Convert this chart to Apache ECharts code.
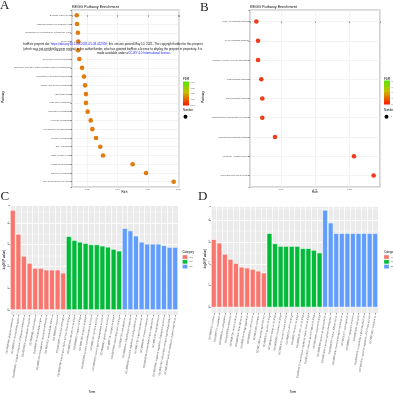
<!DOCTYPE html>
<html><head><meta charset="utf-8">
<script src="https://cdn.jsdelivr.net/npm/echarts@6/dist/echarts.min.js"></script>
<style>html,body{margin:0;padding:0;background:#fff}#c{width:393px;height:400px}</style>
</head><body><div id="c"></div>
<script>
// ---------- DATA ----------
const pathwaysA = ["Synaptic vesicle cycle","Bacterial invasion of epithelial cells","Metabolism of xenobiotics by cytochrome P450","Melanoma","Drug metabolism - cytochrome P450","Glycolysis / Gluconeogenesis","Endocrine and other factor-regulated calcium reabsorption","Regulation of lipolysis in adipocytes","Arginine and proline metabolism","ABC transporters","Fatty acid degradation","Cholesterol metabolism","Pyruvate metabolism","Fat digestion and absorption","Tyrosine metabolism","DNA replication","Base excision repair","Arginine biosynthesis","Nitrogen metabolism","Non-homologous end-joining"];
const richA = [0.0132,0.0134,0.0140,0.0142,0.0142,0.0149,0.0167,0.0180,0.0187,0.0193,0.0193,0.0204,0.0224,0.0235,0.0259,0.0287,0.0305,0.0500,0.0588,0.0770];
const pathwaysB = ["PI3K-Akt signaling pathway","MAPK signaling pathway","Cytokine-cytokine receptor interaction","Ras signaling pathway","Rap1 signaling pathway","Transcriptional misregulation in cancer","Neurotrophin signaling pathway","Apoptosis - multiple species","Collecting duct acid secretion"];
const richB = [0.00277,0.00327,0.00327,0.00423,0.00452,0.00452,0.00824,0.03138,0.03714];
const xTicksA = ["0.02","0.04","0.06","0.08"];
const xTicksB = ["0.01","0.02","0.03"];
const fdrTicks = ["0.90","0.85","0.80","0.75","0.70"];
const numberTicks = ["1"];

const categories = ["CC","MF","BP"];
const catColors = ["#F8766D","#00BA38","#619CFF"];
const yTicksBar = [0,1,2,3,4];

const ccTermsC = ["GO:0005886~plasma membrane","GO:0005615~extracellular space","GO:0005887~integral component of plasma membrane","GO:0070062~extracellular exosome","GO:0009986~cell surface","GO:0005576~extracellular region","GO:0005789~endoplasmic reticulum membrane","GO:0031012~extracellular matrix","GO:0005829~cytosol","GO:0043025~neuronal cell body"];
const mfTermsC = ["GO:0003700~transcription factor activity, DNA binding","GO:0005509~calcium ion binding","GO:0008201~heparin binding","GO:0005102~receptor binding","GO:0042803~protein homodimerization activity","GO:0005125~cytokine activity","GO:0004252~serine-type endopeptidase activity","GO:0008083~growth factor activity","GO:0005178~integrin binding","GO:0042802~identical protein binding"];
const bpTermsC = ["GO:0007155~cell adhesion","GO:0006954~inflammatory response","GO:0008284~positive regulation of cell proliferation","GO:0007165~signal transduction","GO:0006955~immune response","GO:0030198~extracellular matrix organization","GO:0001525~angiogenesis","GO:0043066~negative regulation of apoptotic process","GO:0007166~cell surface receptor signaling pathway","GO:0010628~positive regulation of gene expression"];
const ccC = [4.59,3.49,2.48,2.16,1.93,1.93,1.85,1.85,1.85,1.71];
const mfC = [3.39,3.21,3.13,3.07,3.01,3.01,2.95,2.90,2.80,2.72];
const bpC = [3.76,3.65,3.41,3.13,3.04,3.04,3.04,2.97,2.89,2.89];

const ccTermsD = ["GO:0005634~nucleus","GO:0005737~cytoplasm","GO:0005654~nucleoplasm","GO:0016020~membrane","GO:0005739~mitochondrion","GO:0005925~focal adhesion","GO:0005794~Golgi apparatus","GO:0030054~cell junction","GO:0045202~synapse","GO:0014069~postsynaptic density"];
const mfTermsD = ["GO:0005515~protein binding","GO:0046872~metal ion binding","GO:0003682~chromatin binding","GO:0004672~protein kinase activity","GO:0005524~ATP binding","GO:0003779~actin binding","GO:0008270~zinc ion binding","GO:0044212~transcription regulatory region DNA binding","GO:0031625~ubiquitin protein ligase binding","GO:0019899~enzyme binding"];
const bpTermsD = ["GO:0006468~protein phosphorylation","GO:0007399~nervous system development","GO:0030182~neuron differentiation","GO:0007268~chemical synaptic transmission","GO:0016477~cell migration","GO:0006915~apoptotic process","GO:0007049~cell cycle","GO:0035556~intracellular signal transduction","GO:0043547~positive regulation of GTPase activity","GO:0051301~cell division"];
const ccD = [3.12,2.96,2.45,2.22,2.03,1.86,1.82,1.76,1.68,1.59];
const mfD = [3.40,2.93,2.81,2.81,2.81,2.81,2.71,2.71,2.63,2.51];
const bpD = [4.46,3.88,3.40,3.40,3.40,3.40,3.40,3.40,3.40,3.40];

// ---------- CHART ----------
const FONT = '"Liberation Sans", Arial, sans-serif';
const SERIF = '"Liberation Serif", "DejaVu Serif", serif';
const TXT = '#4D4D4D';

function tickFmt(labels){
  return v => { for (const l of labels) { if (Math.abs(parseFloat(l) - v) < 1e-9) return l; } return ''; };
}
function idxFmt(names){
  return v => { const i = Math.round(v); return (Math.abs(v - i) < 1e-6 && i >= 0 && i < names.length) ? names[i] : ''; };
}

function scatterX(grid, min, max, step, labels){
  return {type:'value', gridIndex:grid, min:min, max:max, minInterval:step, maxInterval:step,
    axisLine:{show:false}, axisTick:{show:true,length:1.5,lineStyle:{color:'#333',width:0.5}},
    axisLabel:{fontSize:2.3,color:TXT,margin:1.2,fontFamily:FONT,formatter:tickFmt(labels)},
    splitLine:{show:true,lineStyle:{color:'#EBEBEB',width:0.6}}};
}
function scatterY(grid, names){
  return {type:'value', gridIndex:grid, inverse:true, min:-0.6, max:names.length - 0.4, minInterval:1, maxInterval:1,
    axisLine:{show:false}, axisTick:{show:true,length:1.5,lineStyle:{color:'#333',width:0.5}},
    axisLabel:{fontSize:2.2,color:TXT,margin:1,fontFamily:FONT,formatter:idxFmt(names)},
    splitLine:{show:true,lineStyle:{color:'#EBEBEB',width:0.6}}};
}
function barXVisible(grid, terms){
  return {type:'category', gridIndex:grid, data:terms, boundaryGap:true,
    axisLine:{show:false}, axisTick:{show:true,alignWithLabel:true,length:1.5,lineStyle:{color:'#333',width:0.5}},
    axisLabel:{interval:0, rotate:80, fontSize:2.5, color:TXT, margin:2.5, fontFamily:FONT},
    splitLine:{show:true,lineStyle:{color:'#FFFFFF',width:0.7}}};
}
function barXHidden(grid, terms){
  return {type:'category', gridIndex:grid, data:terms, boundaryGap:true, show:false};
}
function barY(grid, max){
  return {type:'value', gridIndex:grid, min:0, max:max, interval:1,
    axisLine:{show:false}, axisTick:{show:true,length:1.5,lineStyle:{color:'#333',width:0.5}},
    axisLabel:{fontSize:2.6,color:TXT,margin:1.2,fontFamily:FONT,formatter:tickFmt(yTicksBar.map(String))},
    splitLine:{show:true,lineStyle:{color:'#FFFFFF',width:0.9}},
    minorTick:{show:false,splitNumber:2},
    minorSplitLine:{show:true,lineStyle:{color:'#FFFFFF',width:0.4}}};
}
function barSeries(xi, yi, groups){
  const total = groups.reduce((s,g)=>s+g.length,0);
  let offset = 0;
  return groups.map((g, k) => {
    const data = new Array(total).fill('-');
    g.forEach((v, i) => { data[offset + i] = v; });
    offset += g.length;
    return {type:'bar', name:categories[k], xAxisIndex:xi, yAxisIndex:yi, data:data,
      barGap:'-100%', barCategoryGap:'0%', itemStyle:{color:catColors[k], borderColor:'#FFFFFF', borderWidth:0.6}};
  });
}

const termsC = ccTermsC.concat(mfTermsC, bpTermsC);
const termsD = ccTermsD.concat(mfTermsD, bpTermsD);

function txt(x, y, text, size, extra){
  return Object.assign({type:'text', x:x, y:y, silent:true, z:50,
    style:Object.assign({text:text, fontSize:size, fontFamily:FONT, fill:'#000', textAlign:'left', textVerticalAlign:'middle'}, (extra||{}).style||{})},
    extra && extra.rotation !== undefined ? {rotation:extra.rotation} : {});
}

function fdrLegend(x, yTop, labelX){
  const els = [];
  els.push(txt(x, 79, 'FDR', 3));
  els.push({type:'rect', z:50, shape:{x:x, y:yTop, width:6, height:24},
    style:{fill:{type:'linear',x:0,y:0,x2:0,y2:1,colorStops:[{offset:0,color:'#55E600'},{offset:0.45,color:'#C9BE00'},{offset:1,color:'#FF1500'}]}}});
  fdrTicks.forEach((l, i) => els.push(txt(labelX, yTop + 1 + i * 5.6, l, 2.2, {style:{fill:TXT}})));
  els.push(txt(x, 110, 'Number', 2.8));
  els.push({type:'circle', z:50, shape:{cx:x + 2.5, cy:116.7, r:2}, style:{fill:'#000'}});
  els.push(txt(x + 6.5, 116.7, numberTicks[0], 2.4, {style:{fill:TXT}}));
  return els;
}
function catLegend(x, y0){
  const els = [txt(x, y0, 'Category', 2.8)];
  categories.forEach((c, i) => {
    els.push({type:'rect', z:50, shape:{x:x, y:y0 + 3 + i * 4.8, width:5, height:4}, style:{fill:catColors[i], stroke:'#fff', lineWidth:0.3}});
    els.push(txt(x + 7, y0 + 5 + i * 4.8, c, 2.4, {style:{fill:TXT}}));
  });
  return els;
}

const graphics = [
  txt(0, 6, 'A', 13, {style:{fontFamily:SERIF, fill:'#222'}}),
  txt(200, 8, 'B', 13, {style:{fontFamily:SERIF, fill:'#222'}}),
  txt(0.5, 196.5, 'C', 13, {style:{fontFamily:SERIF, fill:'#222'}}),
  txt(198, 197, 'D', 13, {style:{fontFamily:SERIF, fill:'#222'}}),
  txt(72, 7, 'KEGG Pathway Enrichment', 3.8),
  txt(250, 7, 'KEGG Pathway Enrichment', 3.8),
  txt(3, 97, 'Pathway', 3, {rotation:Math.PI/2, style:{textAlign:'center'}}),
  txt(203, 97, 'Pathway', 3, {rotation:Math.PI/2, style:{textAlign:'center'}}),
  txt(124.5, 192.5, 'Rich', 3, {style:{textAlign:'center'}}),
  txt(315, 192.5, 'Rich', 3, {style:{textAlign:'center'}}),
  txt(4.5, 260, '-log10(P value)', 3, {rotation:Math.PI/2, style:{textAlign:'center'}}),
  txt(205.3, 259, '-log10(P value)', 3, {rotation:Math.PI/2, style:{textAlign:'center'}}),
  txt(92, 392, 'Term', 3, {style:{textAlign:'center'}}),
  txt(293, 392, 'Term', 3, {style:{textAlign:'center'}})
].concat(fdrLegend(183, 81.5, 190.5), fdrLegend(384, 80.5, 391.5), catLegend(182.5, 252), catLegend(384, 252));

// bioRxiv stamp
const wmRich = {n:{fontSize:3, fontFamily:FONT, fill:'#111'}, l:{fontSize:3, fontFamily:FONT, fill:'#2020EE'}};
graphics.push({type:'text', x:23.3, y:44.3, z:100, silent:true, style:{text:'{n|bioRxiv preprint doi: }{l|https://doi.org/10.1101/2021.05.08.452359}{n|; this version posted May 10, 2021. The copyright holder for this preprint}', rich:wmRich, textVerticalAlign:'middle'}});
graphics.push({type:'text', x:23.3, y:48.8, z:100, silent:true, style:{text:'{n|(which was not certified by peer review) is the author/funder, who has granted bioRxiv a license to display the preprint in perpetuity. It is}', rich:wmRich, textVerticalAlign:'middle'}});
graphics.push({type:'text', x:97, y:53, z:100, silent:true, style:{text:'{n|made available under a}{l|CC-BY 4.0 International license}{n|.}', rich:wmRich, textVerticalAlign:'middle'}});

const option = {
  animation:false,
  backgroundColor:'#ffffff',
  textStyle:{fontFamily:FONT},
  grid:[
    {left:72, top:10, width:107, height:177, show:true, backgroundColor:'#fff', borderColor:'#B0B0B0', borderWidth:1.1},
    {left:250, top:10, width:130, height:177, show:true, backgroundColor:'#fff', borderColor:'#B0B0B0', borderWidth:1.1},
    {left:10, top:205, width:168, height:110, show:true, backgroundColor:'#EBEBEB', borderWidth:0, borderColor:'transparent'},
    {left:10, top:205, width:168, height:105},
    {left:211, top:206, width:167, height:107, show:true, backgroundColor:'#EBEBEB', borderWidth:0, borderColor:'transparent'},
    {left:211, top:206, width:167, height:101.5}
  ],
  xAxis:[
    scatterX(0, 0.0101, 0.0805, 0.02, xTicksA),
    scatterX(1, 0.00092, 0.0390, 0.01, xTicksB),
    barXVisible(2, termsC),
    barXHidden(3, termsC),
    barXVisible(4, termsD),
    barXHidden(5, termsD)
  ],
  yAxis:[
    scatterY(0, pathwaysA),
    scatterY(1, pathwaysB),
    {type:'value', gridIndex:2, show:false, min:0, max:1, splitLine:{show:false}},
    barY(3, 4.82),
    {type:'value', gridIndex:4, show:false, min:0, max:1, splitLine:{show:false}},
    barY(5, 4.64)
  ],
  series:[
    {type:'scatter', xAxisIndex:0, yAxisIndex:0, symbolSize:4.6, data:richA.map((v,i)=>[v,i]), itemStyle:{color:'#E07B0C', opacity:1}},
    {type:'scatter', xAxisIndex:1, yAxisIndex:1, symbolSize:4.6, data:richB.map((v,i)=>[v,i]), itemStyle:{color:'#F03C1A', opacity:1}}
  ].concat(barSeries(3, 3, [ccC, mfC, bpC]), barSeries(5, 5, [ccD, mfD, bpD])),
  graphic:{elements:graphics}
};

const chart = echarts.init(document.getElementById('c'), null, {renderer:'canvas', devicePixelRatio:1});
chart.setOption(option);
</script>
</body></html>
